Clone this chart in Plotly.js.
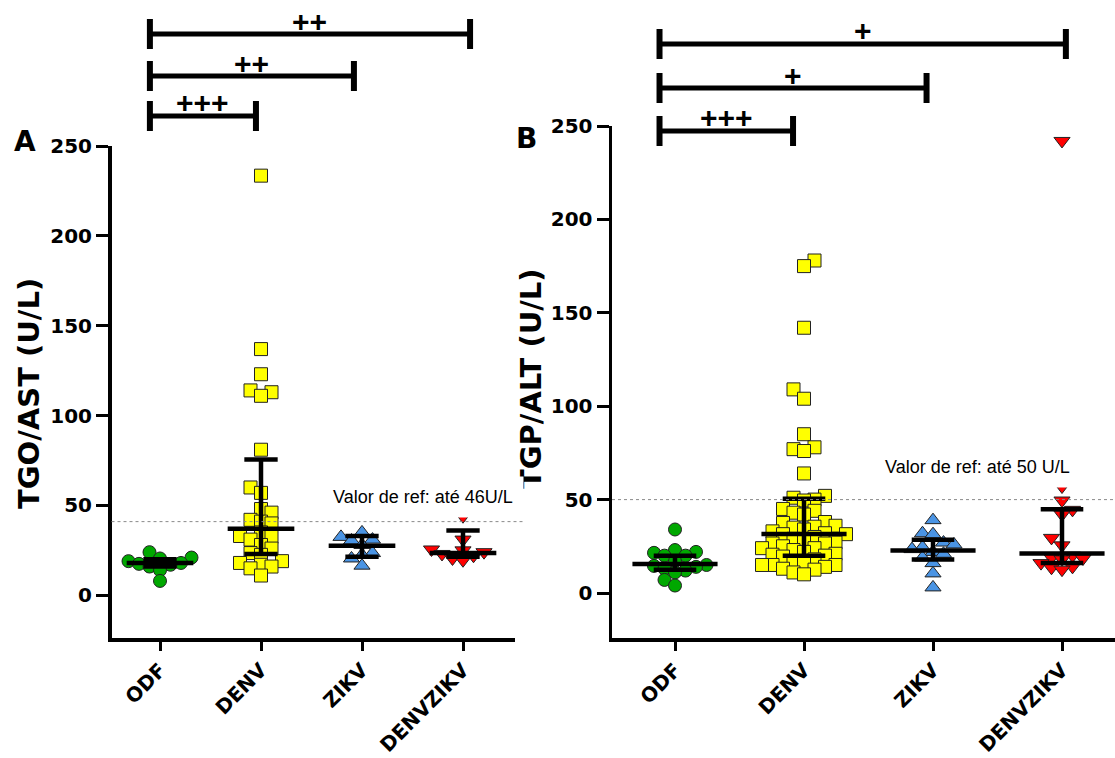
<!DOCTYPE html>
<html>
<head>
<meta charset="utf-8">
<script src="https://cdn.plot.ly/plotly-3.0.1.min.js"></script>
<style>html,body{margin:0;padding:0;background:#fff}#chart{width:1115px;height:758px}</style>
</head>
<body>
<div id="chart"></div>
<script>
// ---------------- DATA ----------------
const categories = ['ODF', 'DENV', 'ZIKV', 'DENVZIKV'];
const yTicks = [0, 50, 100, 150, 200, 250];

// Panel A : TGO/AST (U/L)
const astODF = [24, 21, 20.5, 19, 18, 17.5, 17, 16, 14, 8];
const astDENV = [233.5, 137, 123, 114, 113, 111, 81, 60, 57, 48, 46, 42, 41, 40, 35, 33, 32.5, 31, 28, 26, 23.5, 22.5, 19, 18, 17, 16, 15, 11];
const astZIKV = [35, 32.5, 31, 30.5, 28, 23.5, 22.5, 20.5, 16.5];
const astDENVZIKV = [44, 31, 25.5, 25, 24, 23, 22, 20.5, 19.5];
const astMedian = [18, 37, 27.6, 23.5];
const astQ1 = [16, 23, 21.5, 21.5];
const astQ3 = [20, 75.5, 33, 36];
const astRef = 41;

// Panel B : TGP/ALT (U/L)
const altODF = [34, 23, 22, 21.5, 20, 20, 17, 15, 14.5, 14, 13, 12, 11, 7, 4];
const altDENV = [178, 175, 142, 109, 104, 85, 78, 77, 76, 64, 52, 51, 50, 49.5, 45, 44, 43, 42, 38, 37.5, 36, 35.5, 35, 34, 33, 32, 31.5, 31.5, 30, 29, 28, 27, 26.5, 26.5, 25, 24, 24, 23, 22, 21, 20.5, 20, 19.5, 18, 17, 16, 15, 15, 15, 14, 13, 12.5, 11, 10];
const altZIKV = [39, 32, 31.5, 27, 26, 24.5, 23.5, 22, 21, 19, 16, 10.5, 3];
const altDENVZIKV = [242, 57, 49.5, 44.5, 42, 29.5, 25.5, 20, 19, 18.5, 18, 16, 14, 13.5, 12.5];
const altMedian = [15.5, 31.6, 22.7, 21.2];
const altQ1 = [12.5, 20, 18, 16];
const altQ3 = [20, 50.5, 28.5, 44.8];
const altRef = 50;

// significance brackets (ODF vs group)
const bracketTargets = [1, 2, 3];
const bracketLabelsA = ['+++', '++', '++'];
const bracketLabelsB = ['+++', '+', '+'];

// ---------------- LAYOUT GEOMETRY ----------------
const W = 1115, H = 758;
const geo = {
  A: {domX: [111.5, 515], cat0: 160, step: 101, domY: [146, 638], zero: 595.3, top: 146,
      rows: [116, 76, 34], left: -0.1, ends: [-0.05, -0.08, 0.07]},
  B: {domX: [612, 1115], cat0: 675, step: 129, domY: [126, 638], zero: 593, top: 126,
      rows: [131, 88, 44], left: -0.12, ends: [-0.085, -0.05, 0.03]}
};
Object.values(geo).forEach(g => {
  g.ppu = (g.zero - g.top) / 250;
  g.xRange = [(g.domX[0] - g.cat0) / g.step, (g.domX[1] - g.cat0) / g.step];
  g.yRange = [-(g.domY[1] - g.zero) / g.ppu, 250];
  g.xDomain = [g.domX[0] / W, Math.min(1, g.domX[1] / W)];
  g.yDomain = [1 - g.domY[1] / H, 1 - g.domY[0] / H];
});

const styles = [
  {symbol: 'circle', size: 13, color: '#00A800'},
  {symbol: 'square', size: 13, color: '#FFFF00'},
  {symbol: 'triangle-up', size: 14, color: '#4A94E4'},
  {symbol: 'triangle-down', size: 14, color: '#FF0000'}
];

// beeswarm: column offsets in pixels, derived from the values
function swarm(values, ppu, gapPx, stepPx) {
  const order = values.map((v, i) => i).sort((a, b) => values[a] - values[b]);
  const placed = [];
  const offs = new Array(values.length).fill(0);
  let side = -1;
  order.forEach(i => {
    const y = values[i] * ppu;
    const cands = [0];
    for (let k = 1; k < 40; k++) { cands.push(side * k, -side * k); }
    for (const col of cands) {
      if (!placed.some(p => p.col === col && Math.abs(p.y - y) < gapPx)) {
        placed.push({col, y});
        offs[i] = col * stepPx;
        if (col !== 0) side = -Math.sign(col);
        break;
      }
    }
  });
  return offs;
}

function panelTraces(g, xa, ya, series, med, q1, q3) {
  const traces = [];
  series.forEach((vals, i) => {
    const offs = swarm(vals, g.ppu, 9.5, 10.5);
    const st = styles[i];
    traces.push({
      type: 'scatter', mode: 'markers', xaxis: xa, yaxis: ya,
      x: vals.map((v, k) => i + offs[k] / g.step), y: vals,
      marker: {symbol: st.symbol, size: st.size, color: st.color, line: {color: '#222', width: 1}},
      cliponaxis: false, hoverinfo: 'y', showlegend: false, name: categories[i]
    });
  });
  const mx = [], my = [], wx = [], wy = [];
  categories.forEach((c, i) => {
    mx.push(i - 0.33, i + 0.33, null); my.push(med[i], med[i], null);
    wx.push(i - 0.165, i + 0.165, null, i, i, null, i - 0.165, i + 0.165, null);
    wy.push(q1[i], q1[i], null, q1[i], q3[i], null, q3[i], q3[i], null);
  });
  traces.push({type: 'scatter', mode: 'lines', xaxis: xa, yaxis: ya, x: wx, y: wy,
    line: {color: '#000', width: 4.5}, cliponaxis: false, hoverinfo: 'skip', showlegend: false});
  traces.push({type: 'scatter', mode: 'lines', xaxis: xa, yaxis: ya, x: mx, y: my,
    line: {color: '#000', width: 4.5}, cliponaxis: false, hoverinfo: 'skip', showlegend: false});
  return traces;
}

const data = [].concat(
  panelTraces(geo.A, 'x', 'y', [astODF, astDENV, astZIKV, astDENVZIKV], astMedian, astQ1, astQ3),
  panelTraces(geo.B, 'x2', 'y2', [altODF, altDENV, altZIKV, altDENVZIKV], altMedian, altQ1, altQ3)
);

const tickFont = {family: 'DejaVu Sans, Arial, sans-serif', size: 20, weight: 'bold', color: '#000'};
function xAxis(g, anchor) {
  return {domain: g.xDomain, range: g.xRange, anchor, tickvals: [0, 1, 2, 3], ticktext: categories,
    tickangle: -45, showline: true, linewidth: 3.5, linecolor: '#000', ticks: 'outside', ticklen: 9,
    tickwidth: 3, tickcolor: '#000', showgrid: false, zeroline: false, tickfont: tickFont, fixedrange: true};
}
function yAxis(g, anchor) {
  return {domain: g.yDomain, range: g.yRange, anchor, tickvals: yTicks, showline: true, linewidth: 3.5,
    linecolor: '#000', ticks: 'outside', ticklen: 12, tickwidth: 3, tickcolor: '#000', showgrid: false,
    zeroline: false, tickfont: tickFont, fixedrange: true};
}

const px = x => x / W, py = y => 1 - y / H;
function ann(text, xp, yp, font, extra) {
  return Object.assign({xref: 'paper', yref: 'paper', x: px(xp), y: py(yp), text, showarrow: false,
    font, xanchor: 'center', yanchor: 'middle'}, extra || {});
}

const shapes = [];
const annotations = [];

// reference lines
shapes.push({type: 'line', xref: 'x domain', yref: 'y', x0: 0, x1: 1.02, y0: astRef, y1: astRef,
  line: {color: '#8a8a8a', width: 1, dash: 'dot'}});
shapes.push({type: 'line', xref: 'x2 domain', yref: 'y2', x0: 0, x1: 1, y0: altRef, y1: altRef,
  line: {color: '#8a8a8a', width: 1, dash: 'dot'}});

// brackets
function brackets(g, xa, labels) {
  labels.forEach((lab, j) => {
    const x0 = 0 + g.left, x1 = bracketTargets[j] + g.ends[j];
    const yp = g.rows[j];
    shapes.push({type: 'line', xref: xa, yref: 'paper', x0, x1, y0: py(yp), y1: py(yp), line: {color: '#000', width: 5}});
    [x0, x1].forEach(xx => shapes.push({type: 'line', xref: xa, yref: 'paper', x0: xx, x1: xx,
      y0: py(yp - 15), y1: py(yp + 15), line: {color: '#000', width: 6}}));
    annotations.push({xref: xa, yref: 'paper', x: (x0 + x1) / 2, y: py(yp - 13), text: lab, showarrow: false,
      xanchor: 'center', yanchor: 'middle', font: {family: 'Liberation Sans, Arial, sans-serif', size: 30, weight: 'bold', color: '#000'}});
  });
}
brackets(geo.A, 'x', bracketLabelsA);
brackets(geo.B, 'x2', bracketLabelsB);

const letterFont = {family: 'DejaVu Sans, Arial, sans-serif', size: 28, weight: 'bold', color: '#000'};
const titleFont = {family: 'DejaVu Sans, Arial, sans-serif', size: 29, weight: 'bold', color: '#000'};
const refFont = {family: 'Liberation Sans, Arial, sans-serif', size: 18, color: '#000'};
annotations.push(ann('A', 25, 141.5, letterFont));
annotations.push(ann('B', 526, 139, letterFont));
annotations.push(ann('TGO/AST (U/L)', 29, 394, titleFont, {textangle: -90}));
annotations.push(ann('TGP/ALT (U/L)', 531, 379, titleFont, {textangle: -90}));
annotations.push(ann('Valor de ref: até 46U/L', 423, 497, refFont, {bgcolor: '#fff', borderpad: 10}));
annotations.push(ann('Valor de ref: até 50 U/L', 977, 467, refFont, {bgcolor: '#fff', borderpad: 10}));

const layout = {
  width: W, height: H, margin: {l: 0, r: 0, t: 0, b: 0},
  paper_bgcolor: '#fff', plot_bgcolor: '#fff', showlegend: false,
  xaxis: xAxis(geo.A, 'y'), yaxis: yAxis(geo.A, 'x'),
  xaxis2: xAxis(geo.B, 'y2'), yaxis2: yAxis(geo.B, 'x2'),
  shapes, annotations
};

Plotly.newPlot('chart', data, layout, {displayModeBar: false, staticPlot: true});
</script>
</body>
</html>
